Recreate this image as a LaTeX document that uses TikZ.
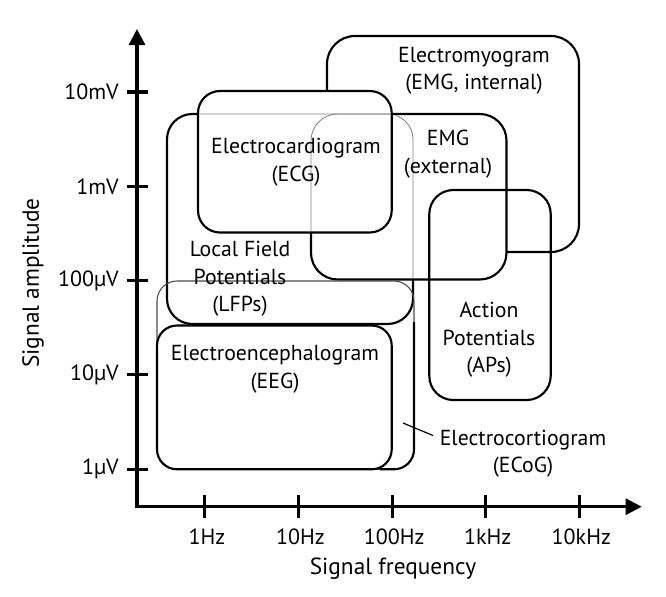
\documentclass[tikz,border=0pt]{standalone}
\usepackage{fontspec}
\setmainfont{PT Sans}
\usetikzlibrary{arrows.meta}
\begin{document}
\begin{tikzpicture}[x=0.75pt,y=-0.75pt,
  thick box/.style={draw=black,line width=1.6pt,fill=white},
  open box/.style={draw=black,line width=1.6pt},
  ghost/.style={draw=black!50,line width=0.6pt},
  axis/.style={line width=2.3pt},
  lbl/.style={align=center,inner sep=0pt,font=\fontsize{16.3}{20.6}\selectfont},
  ticklbl/.style={inner sep=0pt,font=\fontsize{16.5}{18}\selectfont},
  titlelbl/.style={inner sep=0pt,font=\fontsize{17.5}{20}\selectfont},
  leader/.style={draw=black,line width=0.9pt}]
\useasboundingbox (0,0) rectangle (666,596);
% boxes (drawn bottom to top)
\draw[thick box,rounded corners=21pt] (327,36) rectangle (579,252);   % EMG internal
\draw[thick box,rounded corners=19pt] (167,114) rectangle (413,324);  % LFP
\draw[thick box,rounded corners=20pt] (311,114) rectangle (506.5,279.5); % EMG external
\draw[thick box,rounded corners=16.5pt] (198,91) rectangle (391.7,232.5); % ECG
% faded lines seen through the ECG and EMG(external) boxes
\begin{scope}
  \clip[rounded corners=16pt] (199.3,92.3) rectangle (390.4,231.2);
  \draw[ghost,rounded corners=19pt] (167,114) rectangle (413,324);
  \draw[ghost,rounded corners=20pt] (311,114) rectangle (506.5,279.5);
\end{scope}
\begin{scope}
  \clip[rounded corners=19pt] (312.3,115.3) rectangle (505.2,278.2);
  \draw[ghost,rounded corners=19pt] (167,114) rectangle (413,324);
\end{scope}
% ECoG box
\draw[ghost,draw=black!70,line width=0.8pt,rounded corners=15pt] (157,281) rectangle (414,469.3);
\draw[open box] (414,322) -- (414,449.3) arc[start angle=0,end angle=90,radius=20] -- (380,469.3);
% EEG box
\draw[thick box,rounded corners=15pt] (157,325.5) rectangle (391.7,469.3);
% Action potentials box
\draw[open box,rounded corners=18pt] (429.3,190) rectangle (550.7,400);
% axes
\draw[axis,{Triangle[length=12pt,width=12pt]}-{Triangle[length=12pt,width=12pt]}]
  (137,29) -- (137,506.7) -- (641.7,506.7);
\foreach \y/\t [count=\i] in {92/10mV,186.3/1mV,280.6/100µV,374.9/10µV,469.2/1µV}{
  \draw[axis] (126.7,\y) -- (148.3,\y);
  \node[ticklbl,anchor=east] (ylab\i) at (119,\y) {\t};
}
\foreach \x/\t [count=\i] in {204.9/1Hz,298.5/10Hz,392.1/100Hz,485.7/1kHz,579.3/10kHz}{
  \draw[axis] (\x,495) -- (\x,517.5);
  \node[ticklbl] (xlab\i) at (\x+2,537) {\t};
}
\node[titlelbl] (xtitle) at (393,569) {Signal frequency};
\node[titlelbl,rotate=90] (ytitle) at (33,283) {Signal amplitude};
% labels
\node[lbl] (emgint) at (474,71) {Electromyogram\\(EMG, internal)};
\node[lbl] (ecg) at (296,162) {Electrocardiogram\\(ECG)};
\node[lbl] (emgext) at (448,154) {EMG\\(external)};
\node[lbl] (lfp) at (240,279) {Local Field\\Potentials\\(LFPs)};
\node[lbl] (eeg) at (275,369.5) {Electroencephalogram\\(EEG)};
\node[lbl] (aps) at (489,340) {Action\\Potentials\\(APs)};
\node[lbl] (ecog) at (523,453.5) {Electrocortiogram\\(ECoG)};
\coordinate (ecogpt) at (403,423);
\draw[leader] (ecogpt) -- (433,435.5);
\end{tikzpicture}
\end{document}
